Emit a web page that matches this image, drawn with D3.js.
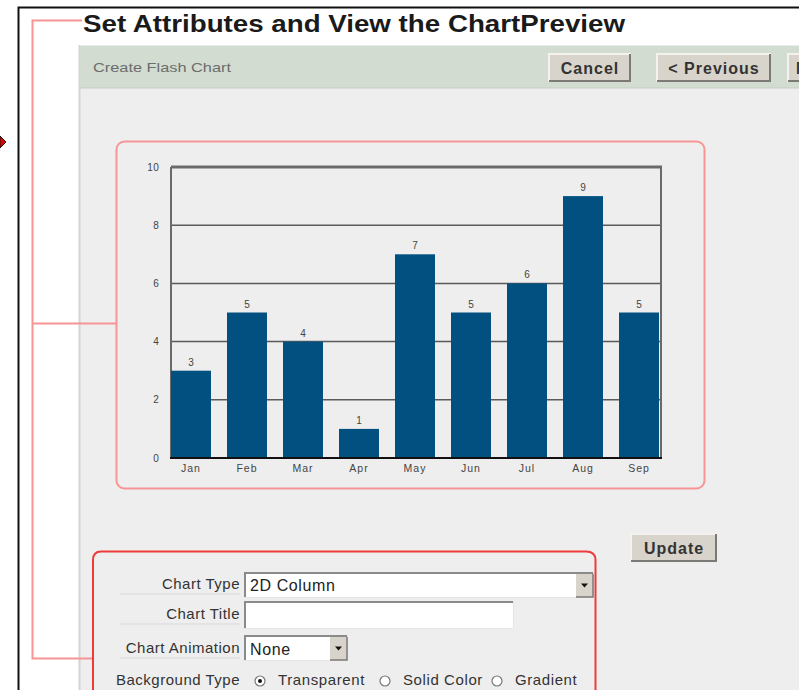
<!DOCTYPE html>
<html>
<head>
<meta charset="utf-8">
<script src="https://cdn.jsdelivr.net/npm/d3@7"></script>
<style>
  body { margin: 0; background: #fff; }
  svg text { font-family: "Liberation Sans", Arial, sans-serif; }
</style>
</head>
<body>
<div id="chart"></div>
<script>
const months = ["Jan", "Feb", "Mar", "Apr", "May", "Jun", "Jul", "Aug", "Sep"];
const values = [3, 5, 4, 1, 7, 5, 6, 9, 5];
const yTicks = [0, 2, 4, 6, 8, 10];

const WIDTH = 799;
const HEIGHT = 690;

const PLOT = { LEFT: 171, RIGHT: 661, TOP: 167, BOTTOM: 458 };

const BAR_COLOR = "#01507f";
const PINK = "#f79494";

const svg = d3
  .select("#chart")
  .append("svg")
  .attr("width", WIDTH)
  .attr("height", HEIGHT);

// page background + wizard panel
svg.append("rect").attr("width", WIDTH).attr("height", HEIGHT).attr("fill", "#fff");
svg.append("rect").attr("x", 79).attr("y", 88).attr("width", WIDTH - 79).attr("height", HEIGHT - 88).attr("fill", "#eeeeee");
svg.append("line").attr("x1", 79.5).attr("x2", 79.5).attr("y1", 45).attr("y2", HEIGHT).attr("stroke", "#d4d4d4").attr("stroke-width", 2);

// green header bar
svg.append("rect").attr("x", 80).attr("y", 45).attr("width", WIDTH - 80).attr("height", 43).attr("fill", "#d2dcd1");
svg.append("line").attr("x1", 80).attr("x2", WIDTH).attr("y1", 45.5).attr("y2", 45.5).attr("stroke", "#e6ece6");
svg.append("line").attr("x1", 80).attr("x2", WIDTH).attr("y1", 88).attr("y2", 88).attr("stroke", "#c4cec3");
svg.append("text")
  .attr("x", 93).attr("y", 72)
  .attr("font-size", 13).attr("fill", "#6d6d6d")
  .attr("textLength", 138).attr("lengthAdjust", "spacingAndGlyphs")
  .text("Create Flash Chart");

function button(x, y, w, h, text, tw) {
  const g = svg.append("g").attr("transform", `translate(${x},${y})`);
  g.append("rect").attr("width", w).attr("height", h).attr("fill", "#d8d4cc");
  g.append("path").attr("d", `M0,${h} V0 H${w}`).attr("fill", "none").attr("stroke", "#f4f2ee").attr("stroke-width", 2);
  g.append("path").attr("d", `M0,${h - 1} H${w - 1} V0`).attr("fill", "none").attr("stroke", "#7c7a76").attr("stroke-width", 2);
  const t = g.append("text")
    .attr("x", tw ? 8 : w / 2).attr("y", h / 2 + 6)
    .attr("text-anchor", tw ? "start" : "middle")
    .attr("font-size", 16).attr("font-weight", "bold")
    .attr("letter-spacing", 1)
    .attr("fill", "#333")
    .text(text);
  if (tw) t.attr("textLength", tw).attr("lengthAdjust", "spacingAndGlyphs");
}
button(549, 54, 82, 28, "Cancel");
button(657, 54, 114, 28, "< Previous");
button(788, 54, 30, 28, "N", 12);

// frame lines
svg.append("path").attr("d", `M${WIDTH},7.5 H18.5 V${HEIGHT}`).attr("fill", "none").attr("stroke", "#111").attr("stroke-width", 2);
svg.append("path").attr("d", "M0,136 L6,142 L0,148 Z").attr("fill", "#d00").attr("stroke", "#111").attr("stroke-width", 1);

// pink bracket
svg.append("path")
  .attr("d", "M82,20.5 H32.5 V658.5 H92 M32.5,323.5 H116")
  .attr("fill", "none").attr("stroke", PINK).attr("stroke-width", 2);

// title
svg.append("text")
  .attr("x", 83).attr("y", 32)
  .attr("font-size", 23).attr("font-weight", "bold")
  .attr("fill", "#1a1a1a")
  .attr("textLength", 542).attr("lengthAdjust", "spacingAndGlyphs")
  .text("Set Attributes and View the ChartPreview");

// chart box
svg.append("rect")
  .attr("x", 116.5).attr("y", 141.5).attr("width", 588).attr("height", 347).attr("rx", 8)
  .attr("fill", "none").attr("stroke", PINK).attr("stroke-width", 2);

// scales
const x = d3.scaleBand()
  .domain(months)
  .range([PLOT.LEFT, PLOT.LEFT + 488])
  .paddingInner(0.286)
  .paddingOuter(0);
const y = d3.scaleLinear().domain([0, 10]).range([PLOT.BOTTOM, PLOT.TOP]);

const plot = svg.append("g");

// gridlines
plot.append("g")
  .selectAll("line")
  .data(yTicks.filter((d) => d > 0 && d < 10))
  .join("line")
  .attr("x1", PLOT.LEFT).attr("x2", PLOT.RIGHT)
  .attr("y1", (d) => y(d)).attr("y2", (d) => y(d))
  .attr("stroke", "#5a5a5a").attr("stroke-width", 1.5);

// frame of plot
plot.append("line").attr("x1", PLOT.LEFT).attr("x2", PLOT.RIGHT + 1).attr("y1", y(10)).attr("y2", y(10)).attr("stroke", "#6a6a6a").attr("stroke-width", 3);
plot.append("line").attr("x1", PLOT.RIGHT).attr("x2", PLOT.RIGHT).attr("y1", y(10)).attr("y2", PLOT.BOTTOM).attr("stroke", "#6a6a6a").attr("stroke-width", 2);
plot.append("line").attr("x1", PLOT.LEFT).attr("x2", PLOT.LEFT).attr("y1", y(10)).attr("y2", PLOT.BOTTOM).attr("stroke", "#6a6a6a").attr("stroke-width", 2);

// bars
plot.append("g")
  .selectAll("rect")
  .data(values)
  .join("rect")
  .attr("x", (d, i) => x(months[i]))
  .attr("y", (d) => y(d))
  .attr("width", x.bandwidth())
  .attr("height", (d) => y(0) - y(d))
  .attr("fill", BAR_COLOR);

plot.append("line").attr("x1", PLOT.LEFT - 1).attr("x2", PLOT.RIGHT + 1).attr("y1", PLOT.BOTTOM).attr("y2", PLOT.BOTTOM).attr("stroke", "#111").attr("stroke-width", 2);

// value labels
plot.append("g")
  .selectAll("text")
  .data(values)
  .join("text")
  .attr("x", (d, i) => x(months[i]) + x.bandwidth() / 2)
  .attr("y", (d) => y(d) - 5)
  .attr("text-anchor", "middle")
  .attr("font-family", "DejaVu Sans")
  .attr("font-size", 10)
  .attr("fill", "#444")
  .text((d) => d);

// y tick labels
plot.append("g")
  .selectAll("text")
  .data(yTicks)
  .join("text")
  .attr("x", 159)
  .attr("y", (d) => y(d) + 3.5)
  .attr("text-anchor", "end")
  .attr("font-family", "DejaVu Sans")
  .attr("font-size", 10)
  .attr("letter-spacing", 0.3)
  .attr("fill", "#444")
  .text((d) => d);

// month labels
plot.append("g")
  .selectAll("text")
  .data(months)
  .join("text")
  .attr("x", (d) => x(d) + x.bandwidth() / 2)
  .attr("y", PLOT.BOTTOM + 14)
  .attr("text-anchor", "middle")
  .attr("font-family", "DejaVu Sans")
  .attr("font-size", 10.5)
  .attr("letter-spacing", 1)
  .attr("fill", "#444")
  .text((d) => d);

// update button
button(631, 534, 86, 28, "Update");

// form box
svg.append("path")
  .attr("d", "M93,700 V560 Q93,551.5 101,551.5 H586 Q595.5,551.5 595.5,560 V700")
  .attr("fill", "none").attr("stroke", "#f03a3a").attr("stroke-width", 2);

const form = svg.append("g");

function label(text, yBase) {
  form.append("text")
    .attr("x", 240).attr("y", yBase)
    .attr("text-anchor", "end")
    .attr("font-size", 15).attr("fill", "#333")
    .attr("letter-spacing", 0.5)
    .text(text);
}

function field(xx, yy, w, h) {
  form.append("rect").attr("x", xx).attr("y", yy).attr("width", w).attr("height", h).attr("fill", "#fff");
  form.append("path").attr("d", `M${xx + 1},${yy + h} V${yy + 1} H${xx + w}`).attr("fill", "none").attr("stroke", "#8a8a8a").attr("stroke-width", 2);
  form.append("path").attr("d", `M${xx},${yy + h - 0.5} H${xx + w - 0.5} V${yy}`).attr("fill", "none").attr("stroke", "#e4e4e4").attr("stroke-width", 1);
}

function dropArrow(xx, yy, h) {
  form.append("rect").attr("x", xx).attr("y", yy).attr("width", 17).attr("height", h).attr("fill", "#d8d4cc");
  form.append("path").attr("d", `M${xx + 17},${yy} V${yy + h} H${xx}`).attr("fill", "none").attr("stroke", "#7c7a76").attr("stroke-width", 1.5);
  form.append("path").attr("d", `M${xx + 5},${yy + h / 2 - 2} h7 l-3.5,4 Z`).attr("fill", "#111");
}

function value(text, xx, yy) {
  form.append("text").attr("x", xx).attr("y", yy)
    .attr("font-size", 16).attr("fill", "#222")
    .attr("letter-spacing", 0.6)
    .text(text);
}

label("Chart Type", 589);
field(244, 572, 350, 26);
value("2D Column", 250, 591);
dropArrow(576, 574, 23);

label("Chart Title", 619);
field(244, 601, 270, 28);

label("Chart Animation", 653);
field(244, 635, 104, 26);
value("None", 250, 655);
dropArrow(330, 637, 23);

label("Background Type", 685);
const radios = [
  { x: 260, text: "Transparent", on: true },
  { x: 385, text: "Solid Color", on: false },
  { x: 497, text: "Gradient", on: false },
];
radios.forEach((r) => {
  form.append("circle").attr("cx", r.x).attr("cy", 681).attr("r", 5).attr("fill", "#fff").attr("stroke", "#777").attr("stroke-width", 1.2);
  if (r.on) form.append("circle").attr("cx", r.x).attr("cy", 681).attr("r", 2).attr("fill", "#111");
  form.append("text").attr("x", r.x + 18).attr("y", 685)
    .attr("font-size", 15).attr("fill", "#333")
    .attr("letter-spacing", 0.6)
    .text(r.text);
});

// faint underlines below labels
[592, 622, 656].forEach((yy) => {
  form.append("line").attr("x1", 120).attr("x2", 240).attr("y1", yy + 2).attr("y2", yy + 2).attr("stroke", "#d8d8d8");
});
</script>
</body>
</html>
